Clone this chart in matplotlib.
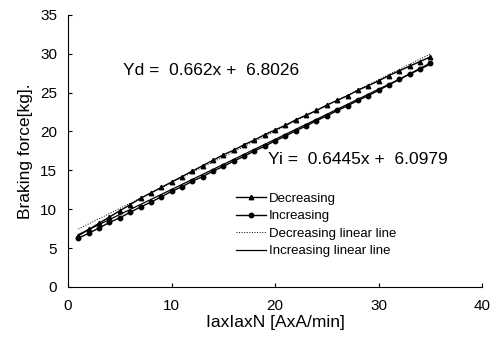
import matplotlib.pyplot as plt
import numpy as np

plt.rcParams['font.family'] = ['Liberation Sans', 'DejaVu Sans']

x = np.arange(1, 36)

decreasing = np.array([6.6, 7.4, 8.2, 9.0, 9.8, 10.6, 11.4, 12.1, 12.8, 13.5,
                       14.2, 14.9, 15.6, 16.3, 17.0, 17.6, 18.3, 18.9, 19.6, 20.2,
                       20.8, 21.5, 22.1, 22.7, 23.4, 24.0, 24.6, 25.3, 25.9, 26.5,
                       27.2, 27.8, 28.4, 29.0, 29.6])

increasing = np.array([6.3, 6.9, 7.6, 8.3, 8.9, 9.6, 10.3, 10.9, 11.6, 12.3,
                       12.9, 13.6, 14.2, 14.9, 15.5, 16.2, 16.8, 17.5, 18.1, 18.8,
                       19.4, 20.1, 20.7, 21.4, 22.0, 22.7, 23.3, 24.0, 24.6, 25.3,
                       26.0, 26.7, 27.4, 28.1, 28.8])

# fitted lines from the equations printed on the chart
slope_d, icpt_d = 0.662, 6.8026
slope_i, icpt_i = 0.6445, 6.0979

figure = plt.figure(figsize=(4.97, 3.38), dpi=100)
axes = figure.add_axes([0.137, 0.151, 0.833, 0.805])

axes.plot(x, decreasing, color='black', linewidth=1.0, marker='^', markersize=3.2,
          label='Decreasing')
axes.plot(x, increasing, color='black', linewidth=1.0, marker='o', markersize=3.2,
          label='Increasing')
axes.plot(x, slope_d * x + icpt_d, color='black', linewidth=0.7, linestyle=':',
          label='Decreasing linear line')
axes.plot(x, slope_i * x + icpt_i, color='black', linewidth=0.9, linestyle='-',
          label='Increasing linear line')

axes.text(5.3, 27.8, 'Yd =  0.662x +  6.8026', fontsize=12.5, va='center')
axes.text(19.3, 16.4, 'Yi =  0.6445x +  6.0979', fontsize=12.5, va='center')

axes.set_xlim(0, 40)
axes.set_ylim(0, 35)
axes.set_xticks(np.arange(0, 41, 10))
axes.set_yticks(np.arange(0, 36, 5))
axes.tick_params(direction='in', length=3, labelsize=11, color='black')
axes.tick_params(axis='x', pad=9)
axes.tick_params(axis='y', pad=8)
axes.spines['top'].set_visible(False)
axes.spines['right'].set_visible(False)

axes.set_xlabel('IaxIaxN [AxA/min]', fontsize=12.5, labelpad=1)
axes.set_ylabel('Braking force[kg].', fontsize=12.5, labelpad=5)

axes.legend(loc='lower left', bbox_to_anchor=(0.39, 0.085), frameon=False,
            fontsize=9.5, handlelength=2.3, handletextpad=0.2, labelspacing=0.4,
            borderpad=0)

figure.savefig('out.png', dpi=100)
